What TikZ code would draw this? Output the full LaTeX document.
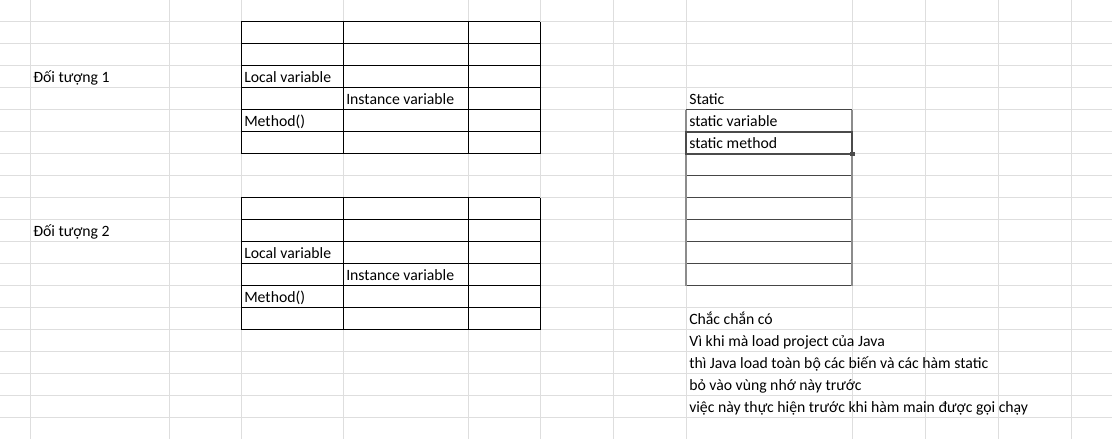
\documentclass[tikz,border=0pt]{standalone}
\usepackage{fontspec}
\setmainfont{Carlito}
\usetikzlibrary{positioning}
\definecolor{gridgray}{RGB}{222,222,222}
\definecolor{boxgray}{RGB}{140,140,140}
\definecolor{rulegray}{RGB}{70,70,70}
\definecolor{selgray}{RGB}{75,75,75}

\begin{document}
\begin{tikzpicture}[x=0.75pt,y=-0.75pt,
    cell/.style={anchor=base west,inner sep=0pt,font=\fontsize{11.8}{14}\selectfont},
    gridline/.style={draw=gridgray,line width=0.75pt},
    tableline/.style={draw=black,line width=0.75pt}]
    \useasboundingbox[fill=white] (0,0) rectangle (1112,439);
    % sheet grid
    \foreach \gx in {30,169,241,343,468,540,613,686,852,925,998,1071}
        \draw[gridline] (\gx,0) -- (\gx,439);
    \foreach \k in {0,...,18}
        \draw[gridline] (0,{21.7+22*\k}) -- (1112,{21.7+22*\k});
    % object tables
    \foreach \top in {21.7,197.7} {
        \foreach \k in {0,...,6}
            \draw[tableline] (241,{\top+22*\k}) -- (540,{\top+22*\k});
        \foreach \gx in {241,343,468,540}
            \draw[tableline] (\gx,\top) -- (\gx,{\top+132});
    }
    % static area
    \foreach \k in {0,...,8}
        \draw[rulegray,line width=0.75pt] (686,{109.7+22*\k}) -- (852,{109.7+22*\k});
    \foreach \gx in {686,852}
        \draw[boxgray,line width=1pt] (\gx,109.7) -- (\gx,285.7);
    \draw[selgray,line width=1.5pt] (686,131.7) rectangle (852,153.7);
    \fill[selgray] (850,151.7) rectangle (854.5,156.2);

    \node[cell] (obj1) at (33,82.7) {Đối tượng 1};
    \node[cell] (lv1) at (244,82.7) {Local variable};
    \node[cell] (iv1) at (346,104.7) {Instance variable};
    \node[cell] (m1) at (244,126.7) {Method()};

    \node[cell] (obj2) at (33,236.7) {Đối tượng 2};
    \node[cell] (lv2) at (244,258.7) {Local variable};
    \node[cell] (iv2) at (346,280.7) {Instance variable};
    \node[cell] (m2) at (244,302.7) {Method()};

    \node[cell] (static) at (689,104.7) {Static};
    \node[cell] (sv) at ([yshift=-16.5pt]static.base west) {static variable};
    \node[cell] (sm) at ([yshift=-16.5pt]sv.base west) {static method};

    \node[cell] (note1) at (689,324.7) {Chắc chắn có};
    \node[cell] (note2) at ([yshift=-16.5pt]note1.base west) {Vì khi mà load project của Java};
    \node[cell] (note3) at ([yshift=-16.5pt]note2.base west) {thì Java load toàn bộ các biến và các hàm static};
    \node[cell] (note4) at ([yshift=-16.5pt]note3.base west) {bỏ vào vùng nhớ này trước};
    \node[cell] (note5) at ([yshift=-16.5pt]note4.base west) {việc này thực hiện trước khi hàm main được gọi chạy};
\end{tikzpicture}
\end{document}
